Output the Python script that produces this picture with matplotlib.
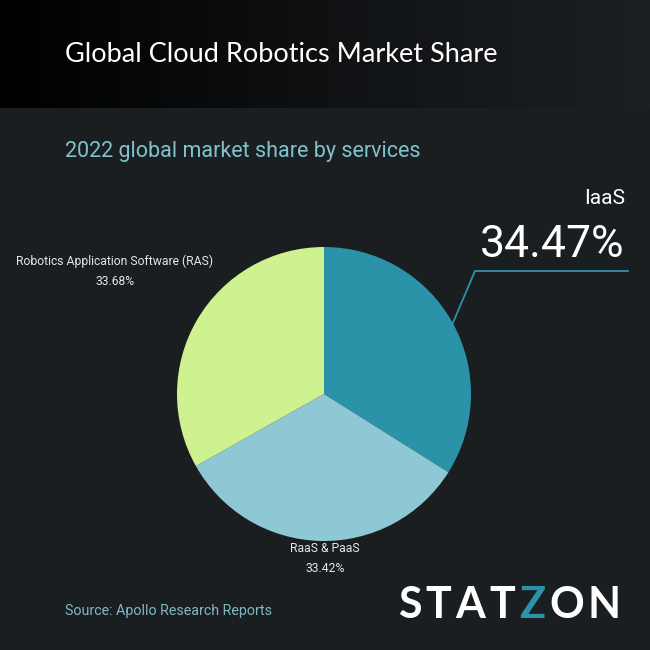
import numpy as np
import matplotlib
matplotlib.use('Agg')
from matplotlib import pyplot as plt
from matplotlib.colors import LinearSegmentedColormap

# data
labels = ['IaaS', 'RaaS & PaaS', 'Robotics Application Software (RAS)']
shares = [34.47, 33.42, 33.68]
colors = ['#2b93a8', '#8ec8d4', '#cdf28f']

title = 'Global Cloud Robotics Market Share'
subtitle = '2022 global market share by services'
source = 'Source: Apollo Research Reports'

W = H = 650
bg = '#1b1e21'
font = ['Roboto', 'DejaVu Sans']

fig = plt.figure(figsize=(6.5, 6.5), dpi=100, facecolor=bg)

def fx(x):
    return x / W

def fy(y):
    return 1 - y / H

# header band with left-to-right gradient
hdr = fig.add_axes((0, fy(108), 1, 108 / H))
grad = np.linspace(0, 1, 256).reshape(1, -1)
cmap = LinearSegmentedColormap.from_list('hdr', ['#000000', '#0f1113', '#1d2023'])
hdr.imshow(grad, aspect='auto', cmap=cmap, extent=(0, 1, 0, 1))
hdr.axis('off')

fig.text(fx(65), fy(55), title, color='white', fontsize=19.5, family=['Lato', 'DejaVu Sans'],
         va='center', ha='left')
fig.text(fx(65), fy(151), subtitle, color='#7fc3cc', fontsize=15.5, family=font,
         va='center', ha='left')

# pie
ax = fig.add_axes((fx(177), fy(541), 294 / W, 294 / H))
ax.pie(shares, colors=colors, startangle=90, counterclock=False, radius=1,
       wedgeprops={'linewidth': 0})
ax.set_xlim(-1, 1)
ax.set_ylim(-1, 1)
ax.set_aspect('equal')
ax.axis('off')

# IaaS callout
fig.text(fx(625), fy(198), labels[0], color='white', fontsize=15, family=font,
         ha='right', va='center')
fig.text(fx(624), fy(245), '{:.2f}%'.format(shares[0]), color='white', fontsize=32,
         family=font, ha='right', va='center')
fig.add_artist(plt.Line2D([fx(452), fx(475), fx(628)], [fy(325), fy(271), fy(271)],
                          color='#2b93a8', lw=1.3))

# other labels
fig.text(fx(115), fy(271), '{}\n{:.2f}%'.format(labels[2], shares[2]), color='#e6e6e6',
         fontsize=8.7, family=font, ha='center', va='center', linespacing=1.7)
fig.text(fx(325), fy(558), '{}\n{:.2f}%'.format(labels[1], shares[1]), color='#e6e6e6',
         fontsize=8.7, family=font, ha='center', va='center', linespacing=1.7)

fig.text(fx(65), fy(611), source, color='#7fb8c4', fontsize=10.3, family=font,
         ha='left', va='center')

# logo, letter-spaced
r = fig.canvas.get_renderer()
x = 398
for ch, c in zip('STATZON', ['white'] * 4 + ['#2b93a8'] + ['white'] * 2):
    t = fig.text(fx(x), fy(605), ch, color=c, fontsize=31, fontweight='bold',
                 family=['Lato', 'DejaVu Sans'], ha='left', va='center')
    bb = t.get_window_extent(renderer=r)
    x += bb.width + 4

fig.savefig('out.png', dpi=100, facecolor=bg)
